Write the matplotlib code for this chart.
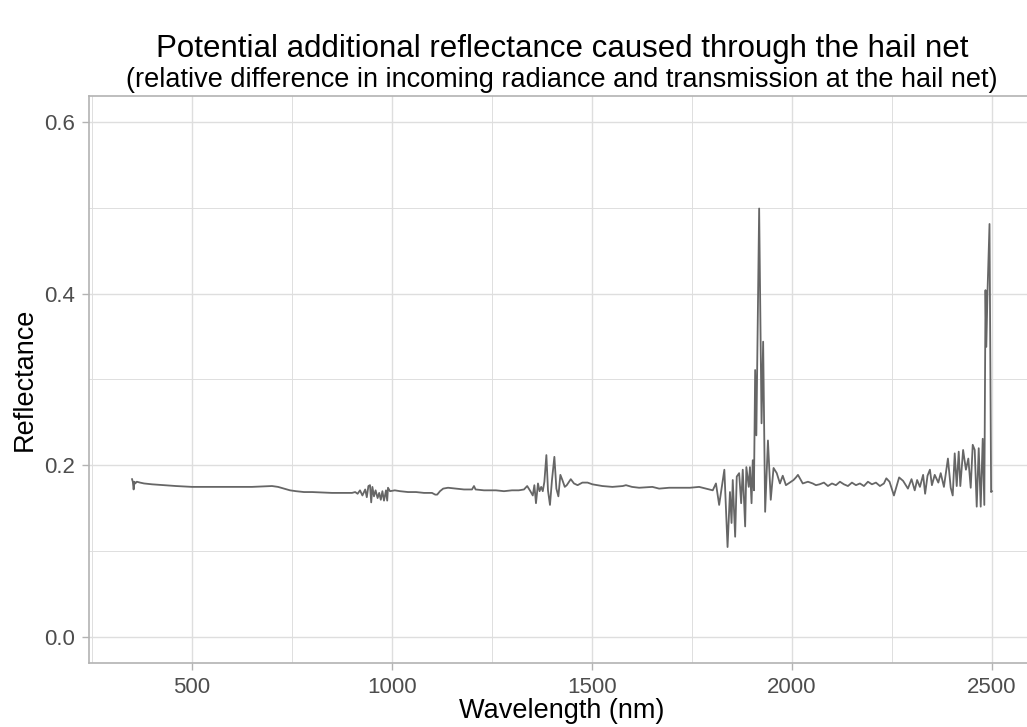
import matplotlib
matplotlib.use('Agg')
import matplotlib.pyplot as plt
from matplotlib.ticker import MultipleLocator

plt.rcParams['font.family'] = ['Liberation Sans', 'DejaVu Sans']

LINE = '#666666'
BORDER = '#B3B3B3'
GRID = '#DEDEDE'
TICKTXT = '#4D4D4D'

# wavelength (nm) and reflectance
wavelength = [
    350, 352, 354, 356, 358, 362, 370, 380, 400, 430, 460, 500, 550, 600, 650, 700,
    715, 730, 745, 760, 780, 800, 850, 880, 900,
    908, 914, 920, 926, 933, 937, 941, 945, 948, 951, 955, 959, 964, 968, 972, 976,
    980, 985, 988, 990, 995, 1007,
    1020, 1040, 1060, 1080, 1100, 1108, 1113, 1120, 1128, 1140, 1160, 1180, 1200,
    1205, 1209, 1230, 1260, 1280, 1300, 1317,
    1330, 1338, 1346, 1352, 1356, 1360, 1365, 1369, 1373, 1377, 1381, 1386, 1390,
    1395, 1400, 1406, 1411, 1416, 1421, 1426, 1432, 1437, 1447, 1455, 1464, 1476,
    1489, 1501, 1526, 1551, 1577, 1585, 1600, 1618, 1651, 1668, 1693,
    1720, 1745, 1768, 1785, 1802, 1810, 1818, 1831, 1839, 1845, 1849, 1852, 1858,
    1862, 1868, 1873, 1877, 1883, 1886, 1892, 1895, 1899, 1902, 1905, 1908, 1911,
    1918, 1924, 1928, 1933, 1940, 1947, 1954, 1962, 1970, 1977, 1985, 1998, 2004,
    2010, 2015, 2027, 2040, 2052, 2060, 2069,
    2080, 2090, 2100, 2110, 2120, 2130, 2140, 2150, 2160, 2170, 2180, 2190, 2200,
    2210, 2220, 2230,
    2236, 2244, 2255, 2268, 2278, 2290, 2299, 2307, 2313, 2320, 2328, 2333, 2339,
    2345, 2350, 2357, 2366, 2372, 2380, 2390, 2397, 2402, 2407, 2412, 2417, 2421,
    2428, 2435, 2441, 2447, 2452, 2457, 2462, 2467, 2472, 2477, 2481, 2484, 2486,
    2489, 2494, 2498, 2500,
]
reflectance = [
    0.184, 0.181, 0.172, 0.181, 0.179, 0.181, 0.180, 0.179, 0.178, 0.177, 0.176, 0.175,
    0.175, 0.175, 0.175, 0.176,
    0.175, 0.173, 0.171, 0.170, 0.169, 0.169, 0.168, 0.168, 0.168,
    0.169, 0.167, 0.171, 0.165, 0.172, 0.163, 0.176, 0.177, 0.157, 0.175, 0.164, 0.171,
    0.162, 0.168, 0.160, 0.170, 0.159, 0.171, 0.159, 0.174, 0.170, 0.171,
    0.170, 0.169, 0.169, 0.168, 0.168, 0.166, 0.166, 0.170, 0.173, 0.174, 0.173, 0.172,
    0.172, 0.176, 0.172, 0.171, 0.171, 0.170, 0.171, 0.171,
    0.172, 0.176, 0.170, 0.165, 0.177, 0.156, 0.179, 0.170, 0.175, 0.170, 0.181, 0.212,
    0.171, 0.154, 0.183, 0.210, 0.173, 0.164, 0.189, 0.183, 0.175, 0.177, 0.184, 0.179,
    0.177, 0.180, 0.180, 0.178, 0.176, 0.175, 0.176, 0.177, 0.175, 0.174, 0.175, 0.173,
    0.174,
    0.174, 0.174, 0.175, 0.173, 0.171, 0.179, 0.154, 0.195, 0.105, 0.169, 0.133, 0.183,
    0.117, 0.187, 0.191, 0.156, 0.195, 0.129, 0.198, 0.175, 0.198, 0.156, 0.206, 0.171,
    0.311, 0.235, 0.499, 0.249, 0.344, 0.146, 0.229, 0.160, 0.197, 0.191, 0.179, 0.188,
    0.177, 0.181, 0.183, 0.186, 0.189, 0.179, 0.181, 0.179, 0.177, 0.178,
    0.180, 0.176, 0.179, 0.177, 0.181, 0.178, 0.176, 0.180, 0.177, 0.179, 0.176, 0.181,
    0.178, 0.180, 0.176, 0.179,
    0.185, 0.181, 0.165, 0.186, 0.182, 0.173, 0.184, 0.171, 0.183, 0.175, 0.189, 0.167,
    0.188, 0.195, 0.177, 0.189, 0.180, 0.191, 0.175, 0.208, 0.174, 0.165, 0.214, 0.176,
    0.216, 0.176, 0.218, 0.195, 0.208, 0.174, 0.224, 0.218, 0.152, 0.220, 0.152, 0.231,
    0.154, 0.404, 0.338, 0.402, 0.481, 0.169, 0.170,
]

fig = plt.figure(figsize=(10.27, 7.27), dpi=100)
ax = fig.add_axes([0.0867, 0.088, 0.921, 0.780])

ax.plot(wavelength, reflectance, color=LINE, lw=1.3, zorder=3)

ax.set_xlim(242.5, 2607.5)
ax.set_ylim(-0.03, 0.63)
ax.xaxis.set_minor_locator(MultipleLocator(250))
ax.yaxis.set_minor_locator(MultipleLocator(0.1))
ax.set_yticks([0.0, 0.2, 0.4, 0.6])
ax.set_yticklabels(['0.0', '0.2', '0.4', '0.6'])
ax.set_xticks([500, 1000, 1500, 2000, 2500])

ax.grid(which='major', color=GRID, lw=1.0)
ax.grid(which='minor', color=GRID, lw=0.7)
ax.set_axisbelow(True)

for side in ['left', 'top', 'bottom']:
    ax.spines[side].set_color(BORDER)
    ax.spines[side].set_linewidth(1.2)
ax.spines['right'].set_visible(False)

ax.tick_params(which='major', length=5, width=1.0, color=BORDER,
               labelsize=16, labelcolor=TICKTXT, pad=5)
ax.tick_params(which='minor', length=0)

ax.set_xlabel('Wavelength (nm)', fontsize=19.5, color='black', labelpad=0)
ax.set_ylabel('Reflectance', fontsize=19.5, color='black', labelpad=5)

ax.text(0.5, 1.082, 'Potential additional reflectance caused through the hail net',
        transform=ax.transAxes, ha='center', va='center', fontsize=22.5, color='black')
ax.text(0.5, 1.028, '(relative difference in incoming radiance and transmission at the hail net)',
        transform=ax.transAxes, ha='center', va='center', fontsize=19.5, color='black')

fig.savefig('out.png', dpi=100)
